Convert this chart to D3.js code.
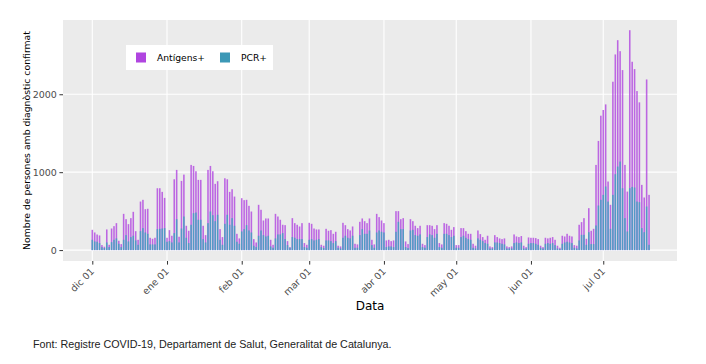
<!DOCTYPE html>
<html>
<head>
<meta charset="utf-8">
<script src="https://cdn.jsdelivr.net/npm/d3@7"></script>
<style>
body { margin: 0; background: #fff; }
svg text { font-family: "DejaVu Sans", Verdana, sans-serif; }
</style>
</head>
<body>
<div id="chart"></div>
<script>
var W = 706, H = 364;
var panel = {left: 63, right: 677, top: 20, bottom: 261};

// dies des de l'1 de desembre de 2020
var startDate = Date.UTC(2020, 11, 1);
var dayMs = 86400000;

var antigens = [260,226,200,188,64,43,265,68,277,307,346,120,77,465,397,333,410,491,243,132,
  623,645,525,530,158,145,158,794,794,747,670,158,256,184,909,1029,171,888,969,312,
  248,1093,1080,1012,901,901,312,192,1029,1080,1012,850,884,269,167,922,909,747,781,687,
  209,150,666,641,645,568,495,141,98,581,517,380,406,406,132,68,465,431,389,325,
  320,115,38,410,346,325,303,346,90,68,350,337,277,265,265,68,56,273,248,256,
  209,235,56,47,350,320,269,252,303,81,73,363,406,371,346,406,132,73,465,423,
  380,346,124,132,115,124,500,500,397,410,111,77,397,371,312,282,312,81,64,320,
  320,312,269,320,90,73,346,337,312,260,295,64,64,282,282,243,209,209,81,56,
  252,205,167,132,184,47,38,192,167,150,141,150,47,38,47,201,175,167,180,56,
  38,162,158,158,154,141,56,38,158,150,158,167,132,56,30,184,175,209,184,175,
  64,56,325,359,410,145,538,248,273,1093,1401,1725,1798,1870,880,581,2161,2511,2694,2553,
  2310,1093,751,2822,2417,2323,2041,1896,837,675,2190,709];

var pcr = [132,111,107,90,38,26,98,38,102,132,150,81,38,132,192,111,167,184,124,68,
  243,282,226,209,73,73,73,269,273,277,282,107,115,98,218,397,98,277,431,158,
  90,325,474,482,389,389,141,98,346,495,448,371,453,132,68,337,453,325,410,312,
  107,81,239,269,320,252,226,56,38,184,252,192,175,184,47,30,150,201,201,218,
  141,64,30,167,158,141,141,141,38,30,132,141,124,132,141,38,26,124,124,115,
  90,115,30,21,158,184,158,150,184,30,30,192,269,209,209,252,64,30,226,252,
  235,226,38,47,47,38,235,363,269,269,38,26,252,260,192,184,201,38,30,167,
  201,192,158,209,38,30,209,209,192,167,184,30,30,167,184,158,141,132,30,21,
  150,132,115,90,81,21,21,98,98,90,81,73,21,21,21,90,98,90,98,21,
  21,81,90,90,81,68,30,21,81,90,81,90,64,21,13,81,98,107,98,90,
  30,21,124,196,196,68,230,77,77,316,572,645,709,816,623,273,709,974,1072,1136,
  794,410,239,794,811,803,623,615,282,230,559,68];

var seriesNames = ["Antígens+", "PCR+"];
var seriesColors = ["#b045e0", "#3c98b6"];
var yTicks = [0, 1000, 2000];
var monthTicks = [Date.UTC(2020,11,1), Date.UTC(2021,0,1), Date.UTC(2021,1,1), Date.UTC(2021,2,1),
  Date.UTC(2021,3,1), Date.UTC(2021,4,1), Date.UTC(2021,5,1), Date.UTC(2021,6,1)];
var monthLabels = ["dic 01", "ene 01", "feb 01", "mar 01", "abr 01", "may 01", "jun 01", "jul 01"];

var days = antigens.map(function(v, i) {
  return {date: new Date(startDate + i * dayMs), ant: v, pcr: pcr[i]};
});

var x = d3.scaleUtc()
  .domain([new Date(startDate - 12.16 * dayMs), new Date(startDate + 242.6 * dayMs)])
  .range([panel.left, panel.right]);
var y = d3.scaleLinear()
  .domain([-140, 2953])
  .range([panel.bottom, panel.top]);

var svg = d3.select("#chart").append("svg")
  .attr("width", W).attr("height", H);

svg.append("rect")
  .attr("x", panel.left).attr("y", panel.top)
  .attr("width", panel.right - panel.left).attr("height", panel.bottom - panel.top)
  .attr("fill", "#ebebeb");

// graella
svg.selectAll("line.hgrid").data(yTicks).enter().append("line")
  .attr("class", "hgrid")
  .attr("x1", panel.left).attr("x2", panel.right)
  .attr("y1", function(d) { return y(d); }).attr("y2", function(d) { return y(d); })
  .attr("stroke", "#fff").attr("stroke-width", 1.1);
svg.selectAll("line.vgrid").data(monthTicks).enter().append("line")
  .attr("class", "vgrid")
  .attr("y1", panel.top).attr("y2", panel.bottom)
  .attr("x1", function(d) { return x(d); }).attr("x2", function(d) { return x(d); })
  .attr("stroke", "#fff").attr("stroke-width", 1.1);

var bw = x(new Date(startDate + dayMs)) - x(new Date(startDate));
var barW = bw * 0.65;

svg.selectAll("rect.ant").data(days).enter().append("rect")
  .attr("class", "ant")
  .attr("x", function(d) { return x(d.date) - barW / 2; })
  .attr("width", barW)
  .attr("y", function(d) { return y(d.ant); })
  .attr("height", function(d) { return y(0) - y(d.ant); })
  .attr("fill", seriesColors[0]).attr("fill-opacity", 0.8);

svg.selectAll("rect.pcr").data(days).enter().append("rect")
  .attr("class", "pcr")
  .attr("x", function(d) { return x(d.date) - barW / 2; })
  .attr("width", barW)
  .attr("y", function(d) { return y(d.pcr); })
  .attr("height", function(d) { return y(0) - y(d.pcr); })
  .attr("fill", "#3fa3bf").attr("fill-opacity", 0.85);

// eixos
var yAxis = svg.append("g").attr("transform", "translate(" + panel.left + ",0)")
  .call(d3.axisLeft(y).tickValues(yTicks).tickSize(3.6).tickPadding(2.5).tickFormat(d3.format("d")));
var xAxis = svg.append("g").attr("transform", "translate(0," + panel.bottom + ")")
  .call(d3.axisBottom(x).tickValues(monthTicks.map(function(t) { return new Date(t); }))
    .tickSize(3.6).tickFormat(function(d, i) { return monthLabels[i]; }));
[yAxis, xAxis].forEach(function(g) {
  g.select(".domain").remove();
  g.selectAll(".tick line").attr("stroke", "#333");
  g.selectAll(".tick text").attr("fill", "#4d4d4d").attr("font-size", 9.5)
    .style("font-family", "'DejaVu Sans', Verdana, sans-serif");
});
xAxis.selectAll(".tick text")
  .attr("text-anchor", "end")
  .attr("dy", null).attr("y", 0)
  .attr("transform", "translate(2,11) rotate(-45)");

svg.append("text")
  .attr("x", (panel.left + panel.right) / 2).attr("y", 310)
  .attr("text-anchor", "middle").attr("font-size", 12).attr("fill", "#000")
  .text("Data");

svg.append("text")
  .attr("transform", "translate(30," + ((panel.top + panel.bottom) / 2) + ") rotate(-90)")
  .attr("text-anchor", "middle").attr("font-size", 9.3).attr("fill", "#000")
  .text("Nombre de persones amb diagnòstic confirmat");

// llegenda
var leg = svg.append("g").attr("transform", "translate(126,45)");
leg.append("rect").attr("width", 147).attr("height", 25).attr("fill", "#fff");
var items = leg.selectAll("g.item").data(seriesNames).enter().append("g")
  .attr("transform", function(d, i) { return "translate(" + (10 + i * 84) + ",0)"; });
items.append("rect").attr("y", 7.5).attr("width", 10).attr("height", 10)
  .attr("fill", function(d, i) { return seriesColors[i]; });
items.append("text").attr("x", 21).attr("y", 16).attr("font-size", 9.2).attr("fill", "#000")
  .text(function(d) { return d; });

svg.append("text")
  .attr("x", 33).attr("y", 348)
  .attr("font-size", 10.75).attr("fill", "#222")
  .style("font-family", "'Liberation Sans', Arial, sans-serif")
  .text("Font: Registre COVID-19, Departament de Salut, Generalitat de Catalunya.");
</script>
</body>
</html>
